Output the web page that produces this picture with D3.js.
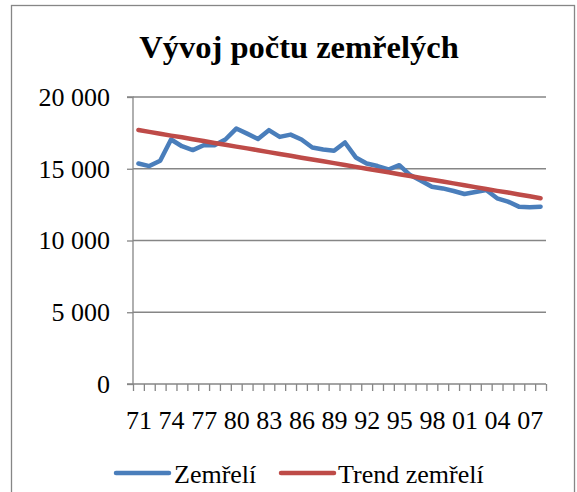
<!DOCTYPE html>
<html><head><meta charset="utf-8">
<script src="https://cdn.jsdelivr.net/npm/d3@7"></script>
<style>
html,body{margin:0;padding:0;background:#fff;}
svg{display:block;}
svg text{font-family:'Liberation Serif','Times New Roman','DejaVu Serif',serif !important;}
</style></head>
<body><svg id="c" width="577" height="492"></svg>
<script>
const years = ["71","72","73","74","75","76","77","78","79","80","81","82","83","84","85","86","87","88","89","90","91","92","93","94","95","96","97","98","99","00","01","02","03","04","05","06","07","08"];
const zemreli = [15370,15185,15555,17040,16570,16300,16640,16640,17040,17800,17450,17080,17690,17220,17380,17040,16480,16340,16250,16830,15790,15370,15190,14950,15250,14560,14170,13750,13630,13450,13240,13380,13520,12940,12710,12360,12320,12360];
const trend = [17700,17570,17440,17310,17190,17060,16930,16800,16670,16540,16420,16290,16160,16030,15900,15770,15650,15520,15390,15260,15130,15000,14880,14750,14620,14490,14360,14230,14110,13980,13850,13720,13590,13460,13340,13210,13080,12950];
const yTicks = [0,5000,10000,15000,20000];
const labelYears = ["71","74","77","80","83","86","89","92","95","98","01","04","07"];
const title = "Vývoj počtu zemřelých";
const seriesNames = ["Zemřelí","Trend zemřelí"];
const colors = ["#4A7EBB","#BE4B48"];

const FF = "'Liberation Serif','Times New Roman','DejaVu Serif',serif";
const svg = d3.select("#c");
const L = 133, R = 546, T = 97, B = 384;
const grid = "#868686";

// chart border
svg.append("rect").attr("x",11.5).attr("y",5.5).attr("width",563).attr("height",520)
  .attr("fill","none").attr("stroke",grid).attr("stroke-width",1.3);

svg.append("text").attr("x",299).attr("y",58).attr("text-anchor","middle")
  .attr("font-family",FF).attr("font-size",32.5).attr("font-weight","bold").attr("fill","#000").text(title);

const x = d3.scaleLinear().domain([0, years.length]).range([L, R]);
const y = d3.scaleLinear().domain([0, 20000]).range([B, T]);

// gridlines
svg.append("g").selectAll("line").data(yTicks.filter(d=>d>0)).join("line")
  .attr("x1",L).attr("x2",R).attr("y1",d=>y(d)).attr("y2",d=>y(d))
  .attr("stroke",grid).attr("stroke-width",1.3);

// y axis
const ya = svg.append("g").attr("transform",`translate(${L},0)`)
  .call(d3.axisLeft(y).tickValues(yTicks).tickSize(6).tickPadding(17)
    .tickFormat(d=>d3.format(",")(d).replace(/,/g," ")));
ya.attr("font-family",FF);
ya.select(".domain").attr("stroke",grid).attr("stroke-width",1.3).attr("d",`M-6,${T}H0V${B}H-6`);
ya.selectAll(".tick line").attr("stroke",grid).attr("stroke-width",1.3);
ya.selectAll("text").attr("font-family",FF).attr("font-size",26).attr("fill","#000");

// x axis ticks
const xa = svg.append("g").attr("transform",`translate(0,${B})`)
  .call(d3.axisBottom(x).tickValues(d3.range(years.length+1)).tickSize(7).tickFormat(""));
xa.select(".domain").attr("stroke",grid).attr("stroke-width",1.3).attr("d",`M${L},0H${R}`);
xa.selectAll(".tick line").attr("stroke",grid).attr("stroke-width",1.3);

// x labels
const xl = svg.append("g").attr("transform",`translate(0,${B})`)
  .call(d3.axisBottom(x).tickValues(labelYears.map(l=>years.indexOf(l)+0.5)).tickSize(0).tickPadding(27)
    .tickFormat(v=>years[Math.floor(v)]));
xl.attr("font-family",FF);
xl.select(".domain").remove();
xl.selectAll("text").attr("font-family",FF).attr("font-size",26).attr("fill","#000");

// lines
const line = d3.line().x((d,i)=>x(i+0.5)).y(d=>y(d));
[zemreli, trend].forEach((s,k)=>{
  svg.append("path").datum(s).attr("d",line).attr("fill","none")
    .attr("stroke",colors[k]).attr("stroke-width",4.5)
    .attr("stroke-linejoin","round").attr("stroke-linecap","round");
});

// legend
const leg = [{x1:116,x2:169,tx:174},{x1:281,x2:334,tx:338}];
leg.forEach((g,k)=>{
  svg.append("line").attr("x1",g.x1).attr("x2",g.x2).attr("y1",473).attr("y2",473)
    .attr("stroke",colors[k]).attr("stroke-width",4.5).attr("stroke-linecap","round");
  svg.append("text").attr("x",g.tx).attr("y",483).attr("font-family",FF).attr("font-size",26).attr("fill","#000").text(seriesNames[k]);
});
</script></body></html>
